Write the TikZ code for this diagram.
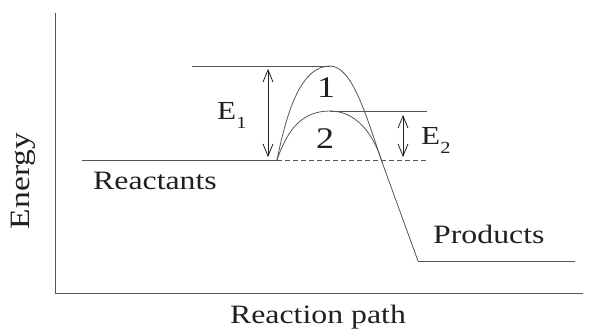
\documentclass[tikz,border=0pt]{standalone}
\usepackage{fontspec}
\setmainfont{Liberation Serif}[FakeStretch=1.2]
\usetikzlibrary{arrows.meta}
\definecolor{ink}{HTML}{231F20}
\definecolor{line}{HTML}{555555}
\newcommand{\lowidx}[1]{\raisebox{-9pt}{\fontsize{17}{17}\selectfont #1}}

\begin{document}
\begin{tikzpicture}[
  x=1pt,y=-1pt,
  font=\fontsize{26.5}{30}\selectfont,
  text=ink,
  level/.style={draw=line,line width=0.9pt},
  path/.style={draw=line,line width=0.8pt},
  gap/.style={{Straight Barb[length=12pt,width=10pt]}-{Straight Barb[length=12pt,width=10pt]},draw=ink,line width=0.8pt},
  label/.style={inner sep=0pt},
  energy/.style={inner sep=0pt,font=\fontsize{26}{30}\selectfont},
  route/.style={inner sep=0pt,font=\fontsize{30}{34}\selectfont}
]
\useasboundingbox (0,0) rectangle (589,330);
% axes
\draw[level] (55,13) -- (55,293) -- (583,293);
% energy levels
\coordinate (start) at (277,160);
\coordinate (peakone) at (330,66);
\coordinate (peaktwo) at (330,111);
\coordinate (cross) at (382,162);
\coordinate (finish) at (418,261);
\draw[level] (82,160) -- (start);
\draw[level,dashed,dash pattern=on 5pt off 3pt] (start) -- (427,160);
\draw[level] (192,66) -- (peakone);
\draw[level] (peaktwo) -- (427,111);
\draw[level] (finish) -- (575,261);
% reaction paths
\draw[path] (start) .. controls (288,105) and (303,66) .. (peakone)
  .. controls (352,66) and (366,115) .. (cross) -- (finish);
\draw[path] (start) .. controls (288,128) and (303,111) .. (peaktwo)
  .. controls (355,111) and (373,132) .. (cross);
% activation energies
\coordinate (eonetop) at (268,69);
\coordinate (eonebot) at (268,157);
\coordinate (etwotop) at (403,115);
\coordinate (etwobot) at (403,157);
\draw[gap] (eonetop) -- (eonebot);
\draw[gap] (etwotop) -- (etwobot);
% labels
\node[energy,anchor=base west] (eone) at (217,119) {E\lowidx{1}};
\node[energy,anchor=base west] (etwo) at (421,144) {E\lowidx{2}};
\node[route] (one) at (326,88) {1};
\node[route] (two) at (325,139) {2};
\node[label,anchor=base west] (react) at (93,189) {Reactants};
\node[label,anchor=base west] (prod) at (433,243) {Products};
\node[label,anchor=base] (xlab) at (318,323) {Reaction path};
\node[label,anchor=base,rotate=90,font=\fontsize{28}{32}\selectfont] (ylab) at (29,181) {Energy};
\end{tikzpicture}
\end{document}
